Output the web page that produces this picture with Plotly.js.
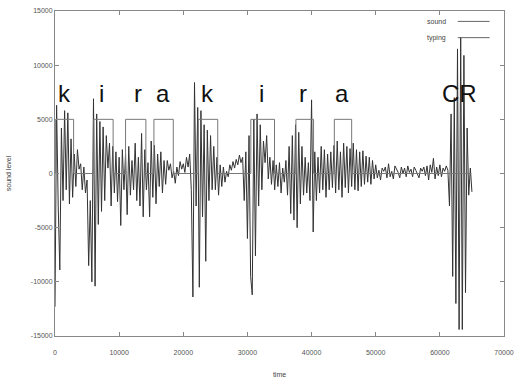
<!DOCTYPE html>
<html>
<head>
<meta charset="utf-8">
<script src="https://cdn.plot.ly/plotly-3.0.1.min.js"></script>
<style>html,body{margin:0;padding:0;background:#fff;}#chart{width:514px;height:380px;}</style>
</head>
<body>
<div id="chart"></div>
<script>
// sound level, sampled every 250 time units starting at 0
var soundStart = 0;
var soundStep = 250;
var soundLevel = [
  -12300, 6300, -3000, -8900, 4200, -2500, 5800, -1500, 5600, -2800,
  3200, -2200, 1800, -1200, 2200, 400, 900, -1500, 600, -1800,
  -600, -8500, -2500, -10000, 6900, -10400, 5500, -4700, 4800, -3500,
  4300, -2500, 3500, 500, 2800, -3000, 2500, -1800, 2000, -2600,
  1500, -4800, 2200, -1500, 1800, -3800, 2500, -2000, 1200, -1500,
  2800, -2500, 1500, -3000, 3700, -4000, 2200, -1500, 1000, -4000,
  3000, -2200, 2600, -2800, 1800, -1200, 2000, -1800, 1200, -1000,
  1200, 300, 900, -400, 200, -900, 600, -200, 1100, 400,
  900, 100, 1500, 600, 1800, -1500, -11400, 8400, -3000, 6100,
  -10500, 5800, -4000, 4500, -8100, 4000, -2500, 3500, -1500, 2500,
  -1500, 1500, -2000, 800, -1200, 600, -800, 200, -300, 800,
  300, 1100, 500, 1300, 800, 1700, 1000, 1500, -2500, 2000,
  -6000, 3500, -9500, -11200, 5000, -7600, 5500, -3000, 4500, -1500,
  3000, 1000, 3500, -500, 1500, -1000, 1200, -1500, 800, -1200,
  1000, -1800, 500, -800, 1200, -2000, 2500, -3700, 3500, -4300,
  4500, -5000, 3800, -2800, 2500, -2000, 1500, -1800, 1000, -2500,
  6800, -5400, 2000, -2500, 1500, -1800, 2500, -1500, 2200, -2200,
  1800, -1500, 2000, -1300, 2600, -1800, 3000, -1500, 2000, -2200,
  2800, -1300, 2500, -1800, 2300, -1200, 2800, -1500, 2200, -1600,
  2000, -1200, 2100, -1000, 1600, -800, 1500, -1000, 1200, -500,
  800, -400, 300, -600, 500, 200, 600, -400, 900, -300,
  200, -500, 700, 400, 100, -400, 600, 0, 500, -300,
  700, 100, 400, -300, 600, 300, -100, -400, 500, 200,
  600, -200, 700, -600, 800, 100, 1400, -500, 600, -200,
  800, -300, 500, 200, 700, 300, -3000, 5500, -9500, 7000,
  -12000, 11500, -14400, 12600, -14400, 10900, -11000, 4200, -2000, 500,
  -1700
];

// typing: level changes (held until the next time)
var typingTime  = [0, 100, 2900, 6050, 9060, 11000, 14170, 15420, 18440, 22340, 25370, 30530, 34220, 37560, 40310, 43550, 46250, 64900];
var typingLevel = [0, 5000, 0, 5000, 0, 5000, 0, 5000, 0, 5000, 0, 5000, 0, 5000, 0, 5000, 0, 0];

// typed key labels
var keyText = ["k", "i", "r", "a", "k", "i", "r", "a", "CR"];
var keyTime = [1530, 7300, 12920, 16830, 23700, 32250, 38700, 44750, 63080];
var keyLabelLevel = 7350;

// axis ticks
var xTicks = [0, 10000, 20000, 30000, 40000, 50000, 60000, 70000];
var yTicks = [-15000, -10000, -5000, 0, 5000, 10000, 15000];

var soundTrace = {
  type: 'scatter', mode: 'lines', name: 'sound',
  x0: soundStart, dx: soundStep, y: soundLevel,
  line: {color: '#333', width: 1}, showlegend: false, hoverinfo: 'skip'
};
var typingTrace = {
  type: 'scatter', mode: 'lines', name: 'typing',
  x: typingTime, y: typingLevel,
  line: {color: '#777', width: 1, shape: 'hv'}, showlegend: false, hoverinfo: 'skip'
};

var annotations = keyText.map(function(t, i){
  return {x: keyTime[i], y: keyLabelLevel, xref: 'x', yref: 'y', text: t, showarrow: false,
          xanchor: 'center', yanchor: 'middle',
          font: {family: 'Liberation Sans, Arial, sans-serif', size: 24, color: '#111'}};
});
var legendFont = {family: 'Liberation Sans, Arial, sans-serif', size: 7, color: '#444'};
annotations.push({x: 0.875, y: 0.968, xref: 'paper', yref: 'paper', text: 'sound', showarrow: false, xanchor: 'right', yanchor: 'middle', font: legendFont});
annotations.push({x: 0.875, y: 0.918, xref: 'paper', yref: 'paper', text: 'typing', showarrow: false, xanchor: 'right', yanchor: 'middle', font: legendFont});

var shapes = [
  {type: 'line', xref: 'paper', yref: 'paper', x0: 0.897, x1: 0.968, y0: 0.968, y1: 0.968, line: {color: '#666', width: 1}},
  {type: 'line', xref: 'paper', yref: 'paper', x0: 0.897, x1: 0.968, y0: 0.918, y1: 0.918, line: {color: '#666', width: 1}}
];

var tickFont = {family: 'Liberation Sans, Arial, sans-serif', size: 7, color: '#555'};
var layout = {
  width: 514, height: 380,
  margin: {l: 55, r: 10, t: 11, b: 44},
  paper_bgcolor: '#fff', plot_bgcolor: '#fff',
  showlegend: false,
  xaxis: {
    range: [0, 70000], tickvals: xTicks, ticktext: xTicks.map(String),
    ticks: 'inside', ticklen: 4, tickcolor: '#888', mirror: 'ticks',
    showline: true, linecolor: '#888', linewidth: 1, showgrid: false, zeroline: false,
    tickfont: tickFont, ticklabelstandoff: 10,
    title: {text: 'time', font: {family: 'Liberation Sans, Arial, sans-serif', size: 7, color: '#444'}, standoff: 16}
  },
  yaxis: {
    range: [-15000, 15000], tickvals: yTicks, ticktext: yTicks.map(String),
    ticks: 'inside', ticklen: 4, tickcolor: '#888', mirror: 'ticks',
    showline: true, linecolor: '#888', linewidth: 1, showgrid: false, zeroline: false,
    tickfont: tickFont,
    title: {text: 'sound level', font: {family: 'Liberation Sans, Arial, sans-serif', size: 7, color: '#444'}, standoff: 18}
  },
  annotations: annotations,
  shapes: shapes
};

Plotly.newPlot('chart', [soundTrace, typingTrace], layout, {displayModeBar: false, staticPlot: true});
</script>
</body>
</html>
